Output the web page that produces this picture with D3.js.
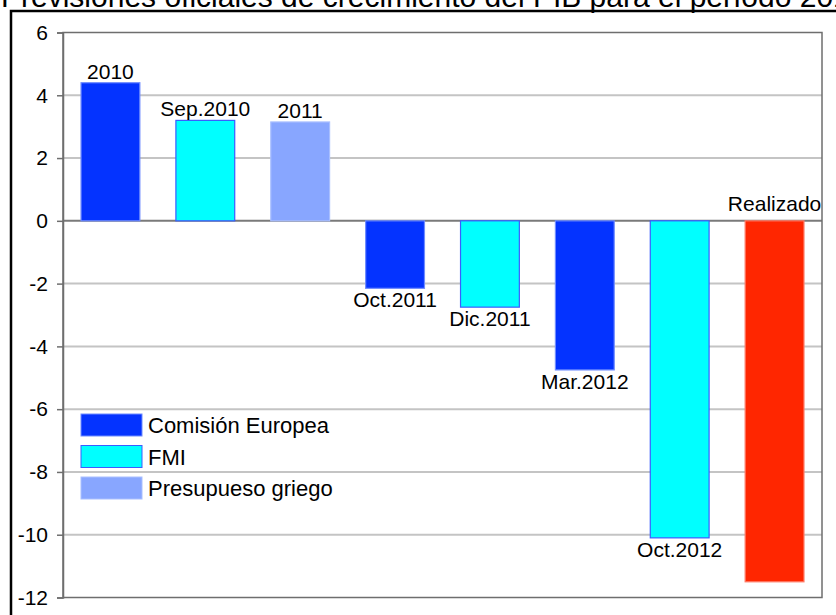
<!DOCTYPE html>
<html>
<head>
<meta charset="utf-8">
<script src="https://cdn.jsdelivr.net/npm/d3@7"></script>
<style>
  body { margin: 0; background: #fff; }
  svg { display: block; font-family: "Liberation Sans", Arial, sans-serif; }
</style>
</head>
<body>
<script>
var width = 836;
var height = 615;

// data
var labels = ["2010", "Sep.2010", "2011", "Oct.2011", "Dic.2011", "Mar.2012", "Oct.2012", "Realizado"];
var values = [4.4, 3.2, 3.15, -2.15, -2.75, -4.75, -10.1, -11.5];
var sources = ["CE", "FMI", "PG", "CE", "FMI", "CE", "FMI", "R"];
var yTicks = [6, 4, 2, 0, -2, -4, -6, -8, -10, -12];
var legendNames = ["Comisión Europea", "FMI", "Presupueso griego"];
var legendKeys = ["CE", "FMI", "PG"];

var fillColor = { CE: "#0433ff", FMI: "#00ffff", PG: "#88a6ff", R: "#ff2600" };
var strokeColor = { CE: "#6f8cff", FMI: "#3a5cff", PG: "#a9bfff", R: "#ff7b66" };

var svg = d3.select("body").append("svg")
    .attr("width", width)
    .attr("height", height);

// title (cut off at the top like the original)
svg.append("text")
    .attr("x", 1)
    .attr("y", 7)
    .attr("font-size", 30)
    .attr("fill", "#000")
    .text("Previsiones oficiales de crecimiento del PIB para el período 2010-2012");

// outer frame
svg.append("rect")
    .attr("x", 11).attr("y", 11)
    .attr("width", 900).attr("height", 700)
    .attr("fill", "none")
    .attr("stroke", "#000")
    .attr("stroke-width", 2.5);

var plot = { left: 63, right: 822, top: 32.5, bottom: 597.5 };

var y = d3.scaleLinear().domain([-12, 6]).range([plot.bottom, plot.top]);
var x = d3.scaleBand().domain(labels).range([plot.left, plot.right]).paddingInner(0.38).paddingOuter(0.19);

var g = svg.append("g");

// grid lines
g.selectAll(".grid")
    .data(yTicks.filter(function(d) { return d != 6 && d != -12; }))
    .enter()
    .append("line")
    .attr("x1", plot.left).attr("x2", plot.right)
    .attr("y1", function(d) { return y(d); })
    .attr("y2", function(d) { return y(d); })
    .attr("stroke", function(d) { return d == 0 ? "#7a7a7a" : "#c4c4c4"; })
    .attr("stroke-width", 2);

// plot frame
g.append("rect")
    .attr("x", plot.left).attr("y", plot.top)
    .attr("width", plot.right - plot.left)
    .attr("height", plot.bottom - plot.top)
    .attr("fill", "none")
    .attr("stroke", "#6e6e6e")
    .attr("stroke-width", 1.5);

// y axis
var yAxis = d3.axisLeft(y).tickValues(yTicks).tickSize(6).tickPadding(9)
    .tickFormat(function(d) { return String(d); });
var ax = svg.append("g")
    .attr("transform", "translate(" + plot.left + ",0)")
    .call(yAxis);
ax.select(".domain").attr("stroke", "#6e6e6e").attr("stroke-width", 1.5);
ax.selectAll(".tick line").attr("stroke", "#6e6e6e").attr("stroke-width", 1.5);
ax.selectAll(".tick text")
    .attr("font-size", 21)
    .attr("font-family", "Liberation Sans, Arial, sans-serif")
    .attr("fill", "#000");

// bars
g.selectAll(".bar")
    .data(values)
    .enter()
    .append("rect")
    .attr("class", "bar")
    .attr("x", function(d, i) { return x(labels[i]); })
    .attr("width", x.bandwidth())
    .attr("y", function(d) { return y(Math.max(0, d)); })
    .attr("height", function(d) { return Math.abs(y(d) - y(0)); })
    .attr("fill", function(d, i) { return fillColor[sources[i]]; })
    .attr("stroke", function(d, i) { return strokeColor[sources[i]]; })
    .attr("stroke-width", 1.2);

// bar labels
g.selectAll(".lbl")
    .data(values)
    .enter()
    .append("text")
    .attr("class", "lbl")
    .attr("x", function(d, i) { return x(labels[i]) + x.bandwidth() / 2; })
    .attr("y", function(d, i) {
        if (labels[i] == "Realizado") return y(0) - 10;
        return d >= 0 ? y(d) - 4 : y(d) + 19;
    })
    .attr("text-anchor", "middle")
    .attr("font-size", 21)
    .attr("fill", "#000")
    .text(function(d, i) { return labels[i]; });

// legend
var legend = svg.append("g").attr("transform", "translate(81,414)");
legend.selectAll("rect")
    .data(legendKeys)
    .enter()
    .append("rect")
    .attr("x", 0)
    .attr("y", function(d, i) { return i * 31.5; })
    .attr("width", 61)
    .attr("height", 22)
    .attr("fill", function(d) { return fillColor[d]; })
    .attr("stroke", function(d) { return strokeColor[d]; })
    .attr("stroke-width", 1);
legend.selectAll("text")
    .data(legendNames)
    .enter()
    .append("text")
    .attr("x", 67)
    .attr("y", function(d, i) { return i * 31.5 + 19; })
    .attr("font-size", 22)
    .attr("fill", "#000")
    .text(function(d) { return d; });
</script>
</body>
</html>
